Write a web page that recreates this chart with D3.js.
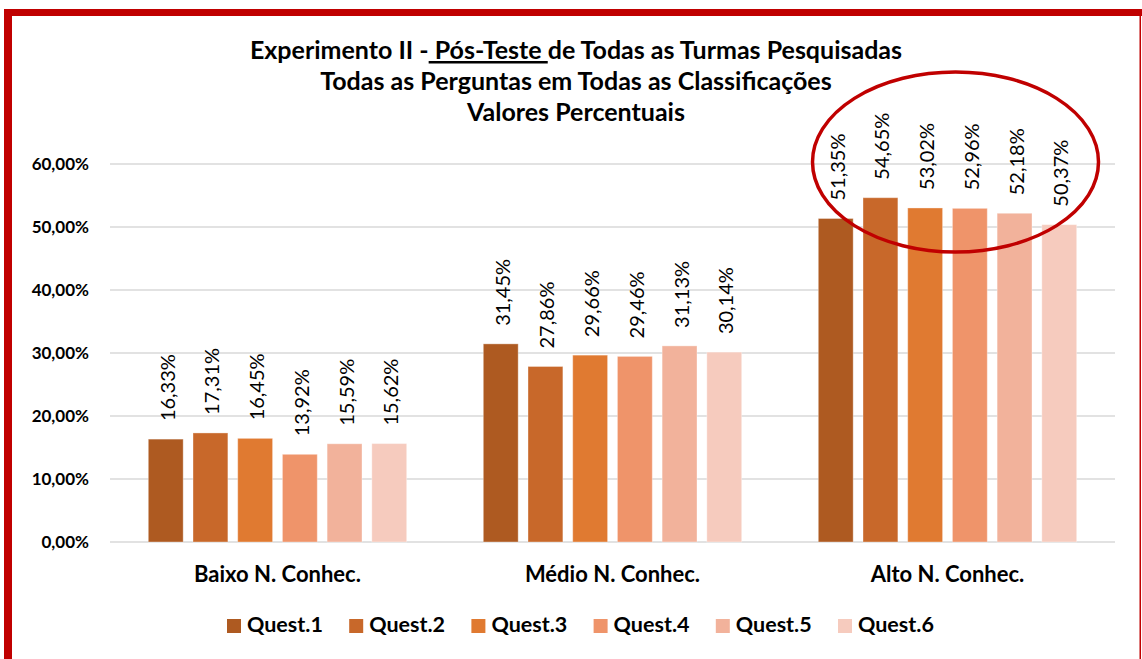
<!DOCTYPE html>
<html><head><meta charset="utf-8">
<script src="https://cdn.jsdelivr.net/npm/d3@7"></script>
<style>
html,body{margin:0;padding:0;background:#fff;}
svg{display:block;font-family:Lato,"Open Sans",sans-serif;}
</style></head>
<body>
<svg id="c" width="1142" height="659"></svg>
<script>
const categories = ["Baixo N. Conhec.", "Médio N. Conhec.", "Alto N. Conhec."];
const seriesNames = ["Quest.1", "Quest.2", "Quest.3", "Quest.4", "Quest.5", "Quest.6"];
const quest1 = [16.33, 31.45, 51.35];
const quest2 = [17.31, 27.86, 54.65];
const quest3 = [16.45, 29.66, 53.02];
const quest4 = [13.92, 29.46, 52.96];
const quest5 = [15.59, 31.13, 52.18];
const quest6 = [15.62, 30.14, 50.37];
const seriesValues = [quest1, quest2, quest3, quest4, quest5, quest6];
const colors = ["#AE5A21", "#C8682A", "#E07A31", "#EF946A", "#F2B29B", "#F6CBBE"];
const yTicks = [0, 10, 20, 30, 40, 50, 60];
const titleLines = ["Todas as Perguntas em Todas as Classificações", "Valores Percentuais"];

const svg = d3.select("#c");
const red = "#C00000";
const fmt = v => v.toFixed(2).replace(".", ",") + "%";

// frame
svg.append("rect").attr("x", 4).attr("y", 9).attr("width", 1138).attr("height", 7).attr("fill", red);
svg.append("rect").attr("x", 4).attr("y", 9).attr("width", 8).attr("height", 650).attr("fill", red);
svg.append("rect").attr("x", 1139.5).attr("y", 9).attr("width", 1.5).attr("height", 650).attr("fill", red);

const x0 = d3.scaleBand().domain(categories).range([110, 1115]).padding(0);
const x1 = d3.scaleBand().domain(seriesNames).range([0, x0.bandwidth()]).paddingInner(0.22).paddingOuter(0.857);
const y = d3.scaleLinear().domain([0, 60]).range([542, 164]);

// grid
svg.append("g").selectAll("line").data(yTicks).join("line")
  .attr("x1", 110).attr("x2", 1115)
  .attr("y1", d => y(d)).attr("y2", d => y(d))
  .attr("stroke", "#D9D9D9").attr("stroke-width", 1.5);

// y labels
svg.append("g").selectAll("text").data(yTicks).join("text")
  .attr("x", 89).attr("y", d => y(d)).attr("dy", "0.35em")
  .attr("text-anchor", "end").attr("font-weight", "bold").attr("font-size", 17)
  .attr("fill", "#000")
  .text(d => d.toFixed(2).replace(".", ",") + "%");

// bars
const data = [];
seriesNames.forEach((s, i) => categories.forEach((c, j) => data.push({s, c, v: seriesValues[i][j], i})));
svg.append("g").selectAll("rect").data(data).join("rect")
  .attr("x", d => x0(d.c) + x1(d.s))
  .attr("y", d => y(d.v))
  .attr("width", x1.bandwidth())
  .attr("height", d => y(0) - y(d.v))
  .attr("fill", d => colors[d.i])
  .attr("stroke", "rgba(255,255,255,0.35)").attr("stroke-width", 1);

// value labels
svg.append("g").selectAll("text").data(data).join("text")
  .attr("transform", d => `translate(${x0(d.c) + x1(d.s) + x1.bandwidth() / 2 + 9},${y(d.v) - 18}) rotate(-90)`)
  .attr("font-size", 20).attr("fill", "#000")
  .text(d => fmt(d.v));

// category labels
svg.append("g").selectAll("text").data(categories).join("text")
  .attr("x", d => x0(d) + x0.bandwidth() / 2).attr("y", 582)
  .attr("text-anchor", "middle").attr("font-weight", "bold").attr("font-size", 22)
  .text(d => d);

// title
const t1 = svg.append("text").attr("x", 576).attr("y", 59).attr("text-anchor", "middle")
  .attr("font-weight", "bold").attr("font-size", 25);
t1.append("tspan").text("Experimento II -");
t1.append("tspan").attr("text-decoration", "underline").text(" Pós-Teste ");
t1.append("tspan").text("de Todas as Turmas Pesquisadas");
svg.append("g").selectAll("text").data(titleLines).join("text")
  .attr("x", 576).attr("y", (d, i) => 90 + i * 31).attr("text-anchor", "middle")
  .attr("font-weight", "bold").attr("font-size", 25).text(d => d);

// legend
const lg = svg.append("g").selectAll("g").data(seriesNames).join("g")
  .attr("transform", (d, i) => `translate(${227 + i * 122.2},626)`);
lg.append("rect").attr("x", 0).attr("y", -7).attr("width", 14).attr("height", 14).attr("fill", (d, i) => colors[i]);
lg.append("text").attr("x", 20).attr("y", 6)
  .attr("font-weight", "bold").attr("font-size", 21.5).text(d => d);

// annotation ellipse around the "Alto" group labels
const altoCx = x0(categories[2]) + x0.bandwidth() / 2 + 8;
svg.append("ellipse").attr("cx", altoCx).attr("cy", 162).attr("rx", 143).attr("ry", 90)
  .attr("fill", "none").attr("stroke", red).attr("stroke-width", 3.5);
</script>
</body></html>
